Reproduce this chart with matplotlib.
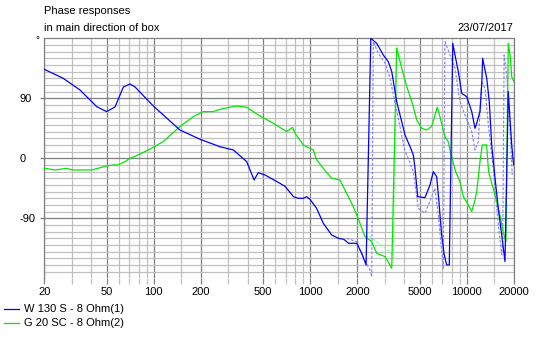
import matplotlib
matplotlib.use('Agg')
import matplotlib.pyplot as plt
from matplotlib.lines import Line2D
from matplotlib.ticker import NullFormatter

plt.rcParams['font.family'] = ['Liberation Sans', 'DejaVu Sans']
plt.rcParams['font.size'] = 8

# phase data (Hz, degrees)
w130_f = [20, 26.4, 33.8, 43.3, 50, 56.6, 64, 70.6, 76, 99.4, 147, 198, 265, 323, 393,
          438, 466, 514, 641, 690, 782, 838, 903, 949, 997, 1099, 1213, 1371, 1516, 1640,
          1760, 1983, 2135, 2276, 2440, 2660, 2930, 3155, 3320, 3485, 3572, 3750, 4035,
          4345, 4560, 4675, 4865, 5410, 5830, 6120, 6430, 6650, 6750, 6920, 7190, 7450,
          7740, 8150, 8420, 8840, 9290, 10000, 10770, 11300, 11500, 12160, 12470, 12650,
          12900, 13430, 13940, 14450, 15170, 15920, 16740, 17570, 18440, 18900, 19400,
          19850, 20000]
w130_ph = [133.5, 120, 102.5, 77.4, 70, 77, 107, 111.5, 107, 78.5, 42.5, 28.5, 17.4, 12.5, -5,
           -32.5, -21.6, -25, -37.5, -42, -57.6, -60, -60, -57.6, -61.5, -75, -97.5, -115, -120, -121.5,
           -127.5, -127.5, -142.5, -160, 180, 172.5, 155, 145, 130, 100, 85, 65, 35,
           17.5, 5, -15, -57.6, -59, -40, -20, -27.6, -65, -85, -115, -145, -160,
           -160, 172.5, 155, 130, 97.5, 92.5, 70, 45, 50, 70, 110, 150,
           140, 120, 85, 20, -30, -75, -115, -155, 100, 60, 20,
           -5, -10]

g20_f = [20, 23.4, 27.8, 29.9, 40.2, 50, 55, 59.2, 65.6, 70.6, 79.6, 92.4, 115, 147, 179,
         207, 240, 265, 339, 393, 466, 581, 708, 772, 800, 904, 1047, 1100, 1213, 1371,
         1549, 1710, 1885, 2080, 2240, 2473, 2660, 3010, 3320, 3570, 3845, 4140, 4460,
         4800, 5160, 5550, 5960, 6490, 6750, 7260, 7620, 8000, 8500, 9060, 9500, 10240,
         10770, 11300, 11590, 12160, 12590, 13400, 13800, 15170, 16300, 17100, 17800,
         18440, 19000, 19400, 20000]
g20_ph = [-15, -17.5, -15, -17.5, -17.5, -11.5, -10, -10, -5, 0, 5, 12.5, 25, 47.5, 62.5,
          70, 70, 73.5, 78.5, 76.5, 65, 52.5, 40, 46.5, 37.5, 20, 12.5, -2.5, -15, -30,
          -32.5, -52.5, -72.5, -97.5, -117.6, -125, -142.5, -147.5, -165, 165, 135, 107.5, 85,
          57.5, 45, 42.5, 47.5, 76.5, 62, 32.5, 25, 2.5, -20, -35, -57, -70,
          -80, -62.5, -50, -5, 20, 20, -20, -55, -85, -110, -125,
          172.5, 152.5, 122.5, 115]

# second (dashed) traces, only where they part from the solid ones
w130b_f = [1710, 1983, 2143, 2410, 2473, 2530, 2725, 3010, 3235, 3655, 4035, 4235, 4560,
           4910, 5410, 5690, 6270, 6590, 6920, 7090, 7260, 8420, 9060, 9750, 10770, 11300,
           11860, 12470, 13100, 13750, 14790, 15920, 16740, 17000, 17340, 18030, 18900, 19550]
w130b_ph = [-120, -125, -145, -167.5, -177.5, 175, 157.5, 142.5, 120, 60, 10, 0, -20,
            -75, -82.5, -70, -45, -85, -140, -165, 175, 135, 85, 65, 40, 12.5,
            25, 115, 105, 50, -15, -100, -145, -125, 155, 125, 45, -25]

g20b_f = [2240, 2410, 2660, 3010, 3235, 3400, 3570, 3750, 3900]
g20b_ph = [-117, -117.5, -125, -135, -140, -150, 170, 152.5, 140]

xlabels = ['20', '50', '100', '200', '500', '1000', '2000', '5000', '10000', '20000']
xmajor = [20, 50, 100, 200, 500, 1000, 2000, 5000, 10000, 20000]
xminor = [30, 40, 60, 70, 80, 90, 150, 300, 400, 600, 700, 800, 900, 1500,
          3000, 4000, 6000, 7000, 8000, 9000, 15000]

W, H = 543, 337
fig = plt.figure(figsize=(W / 100, H / 100), dpi=100)
ax = fig.add_axes([44.3 / W, (H - 278.3) / H, 469.5 / W, 240 / H])

dark = '#808080'
light = '#c0c0c0'

ax.plot(w130b_f, w130b_ph, color='#8080ff', lw=0.8, dashes=(2.5, 1.5), zorder=3)
ax.plot(g20b_f, g20b_ph, color='#80ff80', lw=0.8, dashes=(2.5, 1.5), zorder=3)
ax.plot(g20_f, g20_ph, color='#00e800', lw=0.9, zorder=4)
ax.plot(w130_f, w130_ph, color='#0000ff', lw=0.9, zorder=5)

ax.set_xscale('log')
ax.set_xlim(20, 20000)
ax.set_ylim(-180, 180)

ax.set_xticks(xmajor, labels=xlabels)
ax.set_xticks(xminor, minor=True)
ax.xaxis.set_minor_formatter(NullFormatter())
ax.set_yticks([-90, 0, 90], labels=['-90', '0', '90'])
ax.set_yticks([v for v in range(-170, 180, 10) if v % 90 != 0], minor=True)

ax.grid(which='minor', color=light, lw=0.9)
ax.grid(which='major', color=dark, lw=0.9)
ax.set_axisbelow(True)

ax.tick_params(axis='x', which='major', length=4, width=0.9, color=dark, pad=2)
ax.tick_params(axis='x', which='minor', length=4, width=0.9, color=light)
ax.tick_params(axis='y', which='major', length=3, width=0.9, color=dark, pad=14.5)
ax.tick_params(axis='y', which='minor', length=0)
plt.setp(ax.get_yticklabels(), ha='left')

for side in ['left', 'right', 'top']:
    ax.spines[side].set_color(dark)
    ax.spines[side].set_linewidth(0.9)
ax.spines['bottom'].set_visible(False)

fig.text(44 / W, 1 - 11 / H, 'Phase responses', va='center')
fig.text(44 / W, 1 - 28 / H, 'in main direction of box', va='center')
fig.text(513.5 / W, 1 - 28 / H, '23/07/2017', va='center', ha='right')
fig.text(37 / W, 1 - 40 / H, '°', va='center', ha='center', fontsize=7)

legend_items = [('W 130 S - 8 Ohm(1)', '#0000ff', 309), ('G 20 SC - 8 Ohm(2)', '#00e800', 323)]
for label, color, ypx in legend_items:
    fig.add_artist(Line2D([4 / W, 19 / W], [1 - ypx / H, 1 - ypx / H],
                          transform=fig.transFigure, color=color, lw=0.9))
    fig.text(24 / W, 1 - ypx / H, label, va='center')

fig.savefig('out.png', dpi=100)
